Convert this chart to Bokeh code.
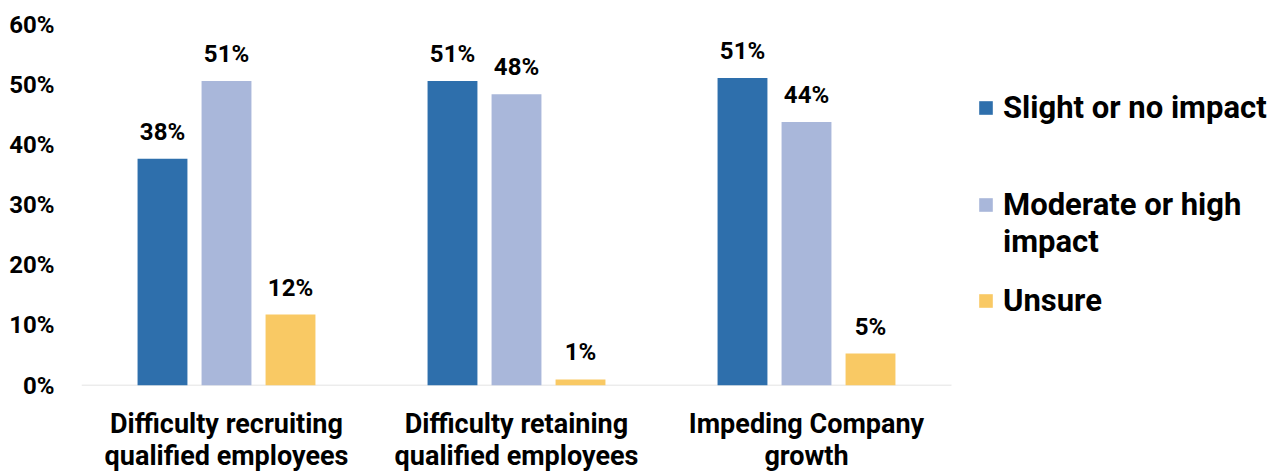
from bokeh.plotting import figure
from bokeh.models import (ColumnDataSource, FixedTicker, PrintfTickFormatter, Legend,
                          LegendItem, Range1d)
from bokeh.core.properties import value
from bokeh.embed import file_html
from bokeh.resources import INLINE

categories = ["Difficulty recruiting\nqualified employees",
              "Difficulty retaining\nqualified employees",
              "Impeding Company\ngrowth"]
series_names = ["Slight or no impact", "Moderate or high", "Unsure"]
slight = [37.7, 50.6, 51.1]
moderate = [50.6, 48.4, 43.8]
unsure = [11.8, 1.0, 5.3]
colors = ["#2E6FAC", "#A9B7DA", "#F9C964"]
y_ticks = [0, 10, 20, 30, 40, 50, 60]

FONT = "Roboto"

n = len(categories)
centers = [i + 0.5 for i in range(n)]

p = figure(x_range=Range1d(0, 4.1), y_range=(0, 60), frame_width=1189, frame_height=361,
           output_backend="svg", toolbar_location=None,
           min_border_left=81, min_border_right=0, min_border_top=24, min_border_bottom=70)
p.outline_line_color = None
p.xgrid.grid_line_color = None
p.ygrid.grid_line_color = None

# baseline across the category area
p.segment(x0=[0], x1=[n], y0=[0], y1=[0], line_color="#D9D9D9", line_width=1.5)

series = [slight, moderate, unsure]
offsets = [-0.2207, 0.0, 0.2207]
rends = []
for vals, col, off in zip(series, colors, offsets):
    src = ColumnDataSource(dict(x=[c + off for c in centers], v=vals,
                                lab=[f"{round(v)}%" for v in vals]))
    r = p.vbar(x="x", top="v", width=0.172, source=src, fill_color=col, line_color=None)
    p.text(x="x", y="v", text="lab", source=src,
           text_align="center", text_baseline="bottom", y_offset=-13,
           text_font=value(FONT), text_font_style="bold", text_font_size="24px",
           text_color="#000000")
    rends.append(r)

blank = p.scatter(x=[], y=[], size=17, fill_alpha=0, line_alpha=0)

def make_legend(items, loc, spacing=0):
    lg = Legend(items=items, location=loc, border_line_color=None,
                background_fill_alpha=0, label_text_font=FONT, label_text_font_style="bold",
                label_text_font_size="31px", label_text_color="#000000",
                glyph_width=17, glyph_height=17, label_standoff=9, spacing=spacing,
                padding=0, margin=0)
    p.add_layout(lg)
    return lg

make_legend([LegendItem(label=series_names[0], renderers=[rends[0]])], (896, 259))
make_legend([LegendItem(label=series_names[1], renderers=[rends[1]]),
             LegendItem(label="impact", renderers=[blank])], (896, 125), spacing=-1)
make_legend([LegendItem(label=series_names[2], renderers=[rends[2]])], (896, 66))

p.yaxis.ticker = FixedTicker(ticks=y_ticks)
p.yaxis.formatter = PrintfTickFormatter(format="%d%%")
p.yaxis.axis_line_color = None
p.yaxis.major_tick_line_color = None
p.yaxis.minor_tick_line_color = None
p.yaxis.major_tick_out = 0
p.yaxis.minor_tick_out = 0
p.yaxis.major_label_standoff = 27
p.yaxis.major_label_text_font = FONT
p.yaxis.major_label_text_font_style = "bold"
p.yaxis.major_label_text_font_size = "24px"
p.yaxis.major_label_text_color = "#000000"

p.xaxis.ticker = FixedTicker(ticks=centers)
p.xaxis.major_label_overrides = {c: lab for c, lab in zip(centers, categories)}
p.xaxis.axis_line_color = None
p.xaxis.major_tick_line_color = None
p.xaxis.minor_tick_line_color = None
p.xaxis.major_tick_out = 0
p.xaxis.minor_tick_out = 0
p.xaxis.major_label_standoff = 22
p.xaxis.major_label_text_font = FONT
p.xaxis.major_label_text_font_style = "bold"
p.xaxis.major_label_text_font_size = "27px"
p.xaxis.major_label_text_line_height = 1.0
p.xaxis.major_label_text_color = "#000000"

open("out.html", "w").write(file_html(p, INLINE))
